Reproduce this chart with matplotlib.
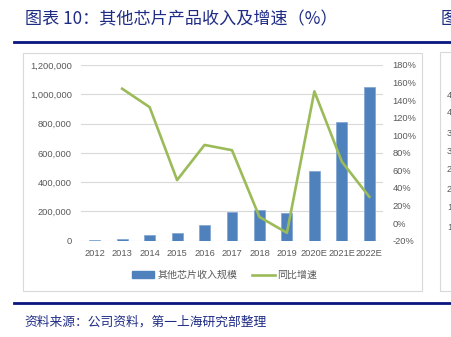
import matplotlib
matplotlib.use("Agg")
import matplotlib.pyplot as plt
from matplotlib.patches import Rectangle
from matplotlib.lines import Line2D
import numpy as np

categories = ["2012", "2013", "2014", "2015", "2016", "2017", "2018", "2019", "2020E", "2021E", "2022E"]
revenue = [5000, 14000, 37000, 55000, 107000, 197000, 213000, 187000, 475000, 809000, 1051000]
growth = [np.nan, 1.53, 1.32, 0.49, 0.89, 0.83, 0.07, -0.11, 1.50, 0.70, 0.30]
left_ticks = [0, 200000, 400000, 600000, 800000, 1000000, 1200000]
right_ticks = [-0.2, 0.0, 0.2, 0.4, 0.6, 0.8, 1.0, 1.2, 1.4, 1.6, 1.8]

title = "图表 10：其他芯片产品收入及增速（%）"
source = "资料来源：公司资料，第一上海研究部整理"
bar_label = "其他芯片收入规模"
line_label = "同比增速"
side_labels = ["4", "4", "3", "3", "2", "2", "1", "1"]

W, H = 452, 337
fig = plt.figure(figsize=(W / 100, H / 100), dpi=100)

cjk = ["Noto Sans CJK SC", "DejaVu Sans"]
navy = "#1F2C86"
bar_color = "#4F81BD"
line_color = "#9BBB59"
grid_color = "#D9D9D9"
tick_color = "#595959"

def fx(px):
    return px / W

def fy(py):
    return 1 - py / H

# title and rules
fig.text(fx(25), fy(19), title, family=cjk, fontsize=12.3, color=navy, va="center", ha="left")
fig.text(fx(441), fy(19), "图", family=cjk, fontsize=12.3, color=navy, va="center", ha="left")
fig.add_artist(Line2D([fx(14), 1.0], [fy(42), fy(42)], color="#0A1580", lw=2.0))
fig.add_artist(Line2D([fx(14), 1.0], [fy(303), fy(303)], color="#0A1580", lw=2.0))
fig.text(fx(24), fy(322), source, family=cjk, fontsize=9.2, color=navy, va="center", ha="left")

# chart boxes
fig.add_artist(Rectangle((fx(23), fy(291)), fx(422 - 23), (291 - 53) / H,
                         fill=False, edgecolor=grid_color, lw=0.8))
fig.add_artist(Rectangle((fx(440), fy(291)), fx(30), (291 - 52) / H,
                         fill=False, edgecolor=grid_color, lw=0.8))
for lab, yy in zip(side_labels, [95, 113, 133, 152, 170, 189, 208, 228]):
    fig.text(fx(447), fy(yy), lab, family="Liberation Sans", fontsize=6.7,
             color=tick_color, va="center", ha="left")

ax = fig.add_axes([fx(81), fy(240.7), fx(383 - 81), (240.7 - 65) / H])
x = np.arange(len(categories))
ax.bar(x, revenue, width=0.4, color=bar_color, edgecolor="#7FA3D1", linewidth=0.5,
       label=bar_label, zorder=2)
ax.set_xlim(-0.5, len(categories) - 0.5)
ax.set_ylim(0, 1200000)
ax.set_yticks(left_ticks)
ax.set_yticklabels([f"{v:,}" for v in left_ticks])
ax.set_xticks(x)
ax.set_xticklabels(categories)
ax.grid(axis="y", color=grid_color, lw=0.8, zorder=0)
ax.set_axisbelow(True)
for s in ax.spines.values():
    s.set_visible(False)
ax.tick_params(length=0, labelsize=6.7, colors=tick_color)
ax.tick_params(axis="y", pad=6.5)
ax.tick_params(axis="x", pad=6)
for lab in ax.get_xticklabels() + ax.get_yticklabels():
    lab.set_family("Liberation Sans")

ax2 = ax.twinx()
ax2.plot(x, growth, color=line_color, lw=1.9, label=line_label, zorder=3)
ax2.set_ylim(-0.2, 1.8)
ax2.set_yticks(right_ticks)
ax2.set_yticklabels([f"{int(round(v * 100))}%" for v in right_ticks])
for s in ax2.spines.values():
    s.set_visible(False)
ax2.tick_params(length=0, labelsize=6.7, colors=tick_color, pad=7)
for lab in ax2.get_yticklabels():
    lab.set_family("Liberation Sans")

handles = [Rectangle((0, 0), 1, 1, color=bar_color), Line2D([0], [0], color=line_color, lw=1.9)]
leg = fig.legend(handles, [bar_label, line_label], loc="center",
                 bbox_to_anchor=(fx(225), fy(275)), ncol=2, frameon=False,
                 prop={"family": cjk, "size": 7.2}, handlelength=2.2, handleheight=0.6,
                 handletextpad=0.3, columnspacing=1.5)
for t in leg.get_texts():
    t.set_color(tick_color)

fig.savefig("out.png", dpi=100)
